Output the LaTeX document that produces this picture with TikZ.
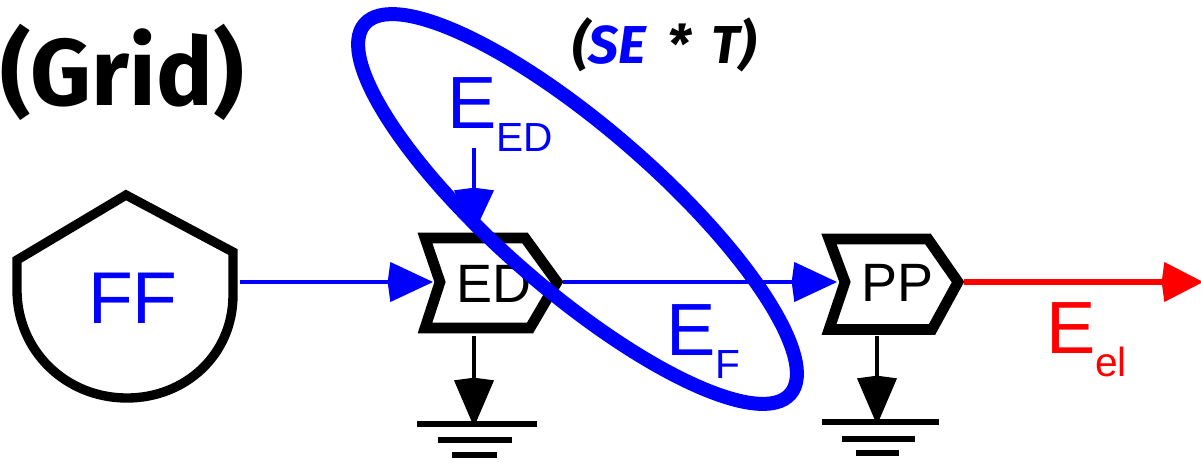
\documentclass[tikz,border=0pt]{standalone}
\usepackage{fontspec}
\setmainfont{Liberation Sans}
\newfontfamily\gridfont{Fira Sans}
\usetikzlibrary{arrows.meta}
\definecolor{pureblue}{RGB}{0,0,255}
\definecolor{purered}{RGB}{255,0,0}
\newcommand{\ESub}[1]{{\fontsize{55.5}{55.5}\selectfont E}\raisebox{-17.5pt}{\fontsize{30.5}{30.5}\selectfont #1}}
\tikzset{
  x=0.75pt,y=-0.75pt,
  box/.style={draw=black,line width=8pt,miter limit=10,line join=miter},
  flow/.style={line width=3.4pt,-{Kite[length=34pt,width=30pt,inset=2pt]}},
  downflow/.style={line width=3.4pt,-{Kite[length=37pt,width=30pt,inset=2pt]}},
  redflow/.style={line width=3.8pt,-{Kite[length=31pt,width=30pt,inset=2pt]}},
  groundbar/.style={draw=black,line width=3.8pt},
  txt/.style={inner sep=0pt,outer sep=0pt,anchor=base west},
  big/.style={txt,font=\fontsize{55}{55}\selectfont},
  mid/.style={txt,font=\fontsize{40.5}{40.5}\selectfont},
}
\begin{document}
\begin{tikzpicture}
\useasboundingbox (0,0) rectangle (1201,462);
% coordinates
\coordinate (ffOut) at (240,282);
\coordinate (edIn) at (433,282);
\coordinate (edOut) at (563,282);
\coordinate (edTop) at (474,148);
\coordinate (edTip) at (474,233);
\coordinate (edDown) at (474,336);
\coordinate (edG) at (474,427);
\coordinate (ppIn) at (837,282);
\coordinate (ppOut) at (964,282);
\coordinate (ppDown) at (877,336);
\coordinate (ppG) at (877,425);
\coordinate (elEnd) at (1203,282);
% shapes
\draw[box,line width=7pt] (126,195) -- (233,252) -- (233,295)
  .. controls (233,355) and (185,398) .. (127,398)
  .. controls (65,398) and (17,350) .. (17,290) -- (17,260) -- cycle;
\draw[box] (425,238) -- (525,238) -- (557,282) -- (530,328) -- (425,328) -- (440,282) -- cycle;
\draw[box] (829,239) -- (928,239) -- (958,282) -- (932,329.5) -- (829,329.5) -- (845,282) -- cycle;
% ground
\draw[groundbar] (417,424) -- (537,424);
\draw[groundbar] (438,440) -- (512,440);
\draw[groundbar] (452,455) -- (497,455);
\draw[groundbar] (822,422) -- (939,422);
\draw[groundbar] (842,439) -- (915,439);
\draw[groundbar] (856,453) -- (899,453);
% connectors
\draw[flow,pureblue] (ffOut) -- (edIn);
\draw[flow,pureblue] (edOut) -- (ppIn);
\draw[flow,pureblue] (edTop) -- (edTip);
\draw[downflow,black] (edDown) -- (edG);
\draw[downflow,black] (ppDown) -- (ppG);
\draw[redflow,purered] (ppOut) -- (elEnd);
% labels
\node[big,text=pureblue] (ff) at (88,323) {FF};
\node[mid] (ed) at (456,302) {ED};
\node[mid] (pp) at (861,301) {PP};
\node[txt,text=pureblue] (eed) at (447,128) {\ESub{ED}};
\node[txt,text=pureblue] (ef) at (666,355) {\ESub{F}};
\node[txt,text=purered] (eel) at (1046,353) {\ESub{el}};
\node[txt,font=\gridfont\bfseries\fontsize{71}{71}\selectfont] (grid) at (0,105) {(Grid)};
\node[txt,font=\gridfont\bfseries\itshape\fontsize{40}{40}\selectfont] (se) at (572,63) {(\textcolor{pureblue}{SE}\hspace{6.5pt} * \hspace{6.5pt}T)};
% ellipse
\draw[pureblue,line width=10.5pt,shift={(577.5,209)},rotate=-41] (0,0) ellipse (211.5pt and 60.75pt);
\end{tikzpicture}
\end{document}
